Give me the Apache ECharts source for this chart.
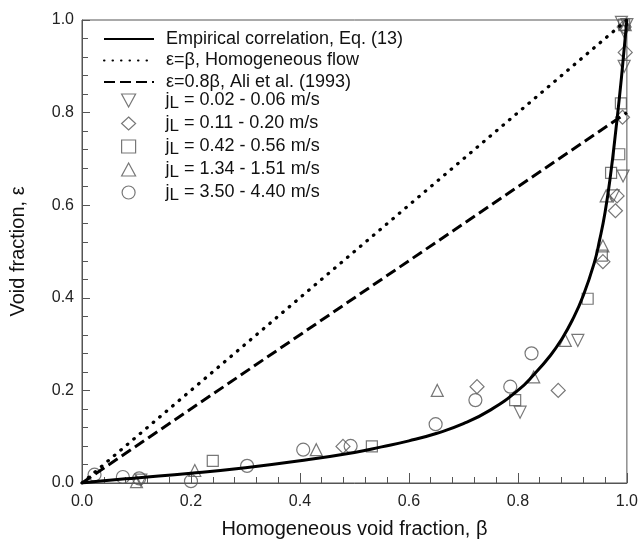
<!DOCTYPE html>
<html>
<head>
<meta charset="utf-8">
<script src="https://cdn.jsdelivr.net/npm/echarts@6/dist/echarts.min.js"></script>
<style>html,body{margin:0;padding:0;background:#fff;}#c{width:641px;height:544px;}</style>
</head>
<body>
<div id="c"></div>
<script>
// Empirical correlation curve
const curve = [[0,0],[0.05,0.006],[0.1,0.011],[0.2,0.021],[0.3,0.033],[0.4,0.048],[0.5,0.066],[0.55,0.078],[0.6,0.091],[0.65,0.107],[0.7,0.128],[0.75,0.158],[0.8,0.2],[0.83,0.235],[0.86,0.276],[0.88,0.31],[0.9,0.352],[0.92,0.405],[0.94,0.475],[0.95,0.525],[0.96,0.585],[0.97,0.665],[0.98,0.765],[0.99,0.875],[1.0,1.0]];
const homogeneous = [[0,0],[1,1]];
const aliLine = [[0,0],[1,0.8]];
// Measured data by liquid superficial velocity
const jL1 = [[0.108,0.006],[0.804,0.153],[0.91,0.308],[0.975,0.62],[0.993,0.663],[0.995,0.9],[0.995,0.975],[0.99,0.995],[1.0,0.99]];
const jL2 = [[0.479,0.079],[0.725,0.208],[0.874,0.2],[0.956,0.478],[0.979,0.588],[0.982,0.62],[0.992,0.79],[0.997,0.93],[0.995,0.985]];
const jL3 = [[0.24,0.048],[0.532,0.079],[0.795,0.179],[0.928,0.398],[0.954,0.491],[0.971,0.67],[0.986,0.71],[0.989,0.82],[0.995,0.99]];
const jL4 = [[0.1,0.003],[0.207,0.027],[0.43,0.072],[0.652,0.2],[0.829,0.229],[0.887,0.308],[0.956,0.512],[0.962,0.62],[0.997,0.99]];
const jL5 = [[0.023,0.018],[0.075,0.013],[0.105,0.01],[0.2,0.004],[0.303,0.037],[0.406,0.072],[0.493,0.08],[0.649,0.127],[0.722,0.179],[0.786,0.208],[0.825,0.28]];

const lineNames = ['Empirical correlation, Eq. (13)','ε=β, Homogeneous flow','ε=0.8β, Ali et al. (1993)'];
const pointNames = ['jL = 0.02 - 0.06 m/s','jL = 0.11 - 0.20 m/s','jL = 0.42 - 0.56 m/s','jL = 1.34 - 1.51 m/s','jL = 3.50 - 4.40 m/s'];

const FONT = '"Liberation Sans", Arial, sans-serif';
const mk = {color:'rgba(0,0,0,0)', borderColor:'#555', borderWidth:1.2};

function scatter(name, data, symbol, size, rot){
  return {type:'scatter', name, data, symbol, symbolSize:size, symbolRotate:rot||0,
    itemStyle:mk, z:2, silent:true};
}

const chart = echarts.init(document.getElementById('c'), null, {renderer:'canvas'});
chart.setOption({
  animation:false,
  backgroundColor:'#fff',
  grid:{left:82,right:10,top:20,bottom:59,show:true,borderColor:'#555',borderWidth:1},
  legend:[{
    orient:'vertical', left:103, top:30, padding:0, itemWidth:50, itemHeight:12, itemGap:3.5,
    textStyle:{fontFamily:FONT,fontSize:18,color:'#111',lineHeight:18,padding:[0,0,0,7]},
    data:lineNames.map(n=>({name:n, itemStyle:{opacity:0}}))
  },{
    orient:'vertical', left:121, top:89, padding:0, itemWidth:14, itemHeight:13, itemGap:0,
    textStyle:{fontFamily:FONT,fontSize:18,color:'#111',lineHeight:18,padding:[0,0,0,25],
      rich:{sub:{fontFamily:FONT,fontSize:17,color:'#111',lineHeight:12,padding:[6,0,0,0]},
            t:{fontFamily:FONT,fontSize:18,color:'#111',lineHeight:18}}},
    formatter:function(n){ return '{t|j}{sub|L}{t|'+n.slice(2)+'}'; },
    data:pointNames.map((n,i)=>{
      const d = {name:n, itemStyle:{color:'rgba(0,0,0,0)',borderColor:'#555',borderWidth:1.2}};
      if (i===0) d.icon = 'path://M0,0 L14,0 L7,13 Z';
      return d;
    })
  }],
  xAxis:{type:'value',min:0,max:1,interval:0.2,
    name:'Homogeneous void fraction, β',nameLocation:'middle',nameGap:36,
    nameTextStyle:{fontFamily:FONT,fontSize:20,color:'#111'},
    axisLine:{lineStyle:{color:'#555',width:1}},
    axisTick:{inside:true,length:10,lineStyle:{color:'#555'}},
    minorTick:{show:true,splitNumber:5,length:6,lineStyle:{color:'#555'}},
    splitLine:{show:false},
    axisLabel:{fontFamily:FONT,fontSize:16,color:'#222',margin:11,formatter:v=>v.toFixed(1)}},
  yAxis:{type:'value',min:0,max:1,interval:0.2,
    name:'Void fraction, ε',nameLocation:'middle',nameGap:54,
    nameTextStyle:{fontFamily:FONT,fontSize:20,color:'#111'},
    axisLine:{lineStyle:{color:'#555',width:1}},
    axisTick:{inside:true,length:8,lineStyle:{color:'#555'}},
    minorTick:{show:true,splitNumber:5,length:6,lineStyle:{color:'#555'}},
    splitLine:{show:false},
    axisLabel:{fontFamily:FONT,fontSize:16,color:'#222',margin:8,formatter:v=>v.toFixed(1)}},
  series:[
    {type:'line',name:lineNames[0],data:curve,smooth:0.5,symbol:'none',itemStyle:{color:'#000'},lineStyle:{color:'#000',width:3},z:3},
    {type:'line',name:lineNames[1],data:homogeneous,symbol:'none',itemStyle:{color:'#000'},lineStyle:{color:'#000',width:3.3,type:[0.5,8],cap:'round'},z:3},
    {type:'line',name:lineNames[2],data:aliLine,symbol:'none',itemStyle:{color:'#000'},lineStyle:{color:'#000',width:3,type:[11,5]},z:3},
    scatter(pointNames[0],jL1,'triangle',12,180),
    scatter(pointNames[1],jL2,'diamond',[14,14]),
    scatter(pointNames[2],jL3,'rect',11),
    scatter(pointNames[3],jL4,'triangle',12),
    scatter(pointNames[4],jL5,'circle',13)
  ]
});
</script>
</body>
</html>
